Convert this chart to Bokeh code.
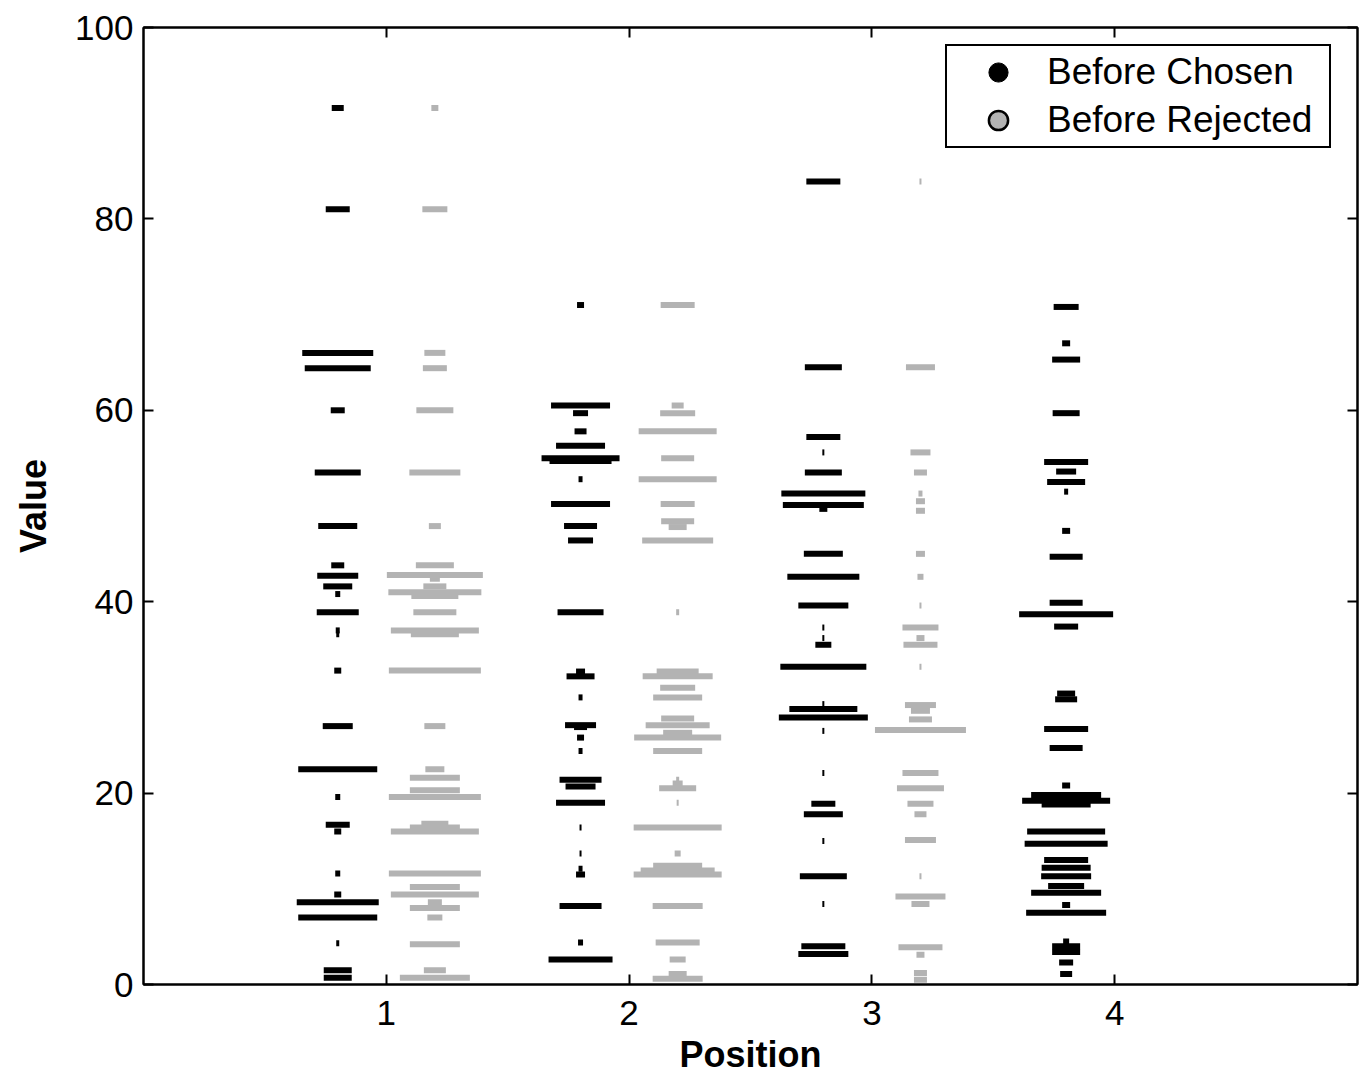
from bokeh.plotting import figure
from bokeh.models import (ColumnDataSource, Range1d, LinearAxis, FixedTicker,
                          Legend, LegendItem)
from bokeh.embed import file_html
from bokeh.resources import INLINE

# ---------------- data (value, count/spread) ----------------
positions = [1, 2, 3, 4]
x_tick_labels = ["1", "2", "3", "4"]
y_ticks = [0, 20, 40, 60, 80, 100]

# Position 1
c1_val = [91.6, 81.0, 66.0, 64.4, 60.0, 53.5, 47.9, 43.8, 42.7, 41.6, 40.8, 38.9, 37.0, 36.6,
          32.8, 27.0, 22.5, 19.6, 16.7, 16.0, 11.6, 9.4, 8.6, 7.0, 4.3, 1.5, 0.7]
c1_cnt = [12, 24, 71, 66, 14, 46, 39, 13, 41, 29, 5, 42, 4, 3,
          7, 30, 79, 5, 24, 7, 5, 7, 82, 79, 3, 28, 28]
r1_val = [91.6, 81.0, 66.0, 64.4, 60.0, 53.5, 47.9, 43.8, 42.8, 42.4, 41.6, 41.0, 40.6, 38.9,
          37.0, 36.6, 32.8, 27.0, 22.5, 21.6, 20.3, 19.6, 16.8, 16.4, 16.0, 11.6, 10.2, 9.4,
          8.6, 8.0, 7.0, 4.2, 1.5, 0.7]
r1_cnt = [7, 25, 21, 24, 37, 51, 12, 38, 96, 10, 23, 93, 47, 43,
          88, 48, 92, 21, 19, 50, 50, 92, 27, 50, 88, 92, 50, 88,
          14, 50, 15, 50, 22, 70]

# Position 2
c2_val = [71.0, 60.5, 59.7, 57.8, 56.3, 55.0, 54.7, 52.8, 50.2, 47.9, 46.4, 38.9, 32.7, 32.2,
          30.0, 27.1, 26.9, 25.8, 24.4, 21.4, 20.7, 19.0, 16.4, 13.7, 12.1, 11.5, 8.2, 4.4, 2.6]
c2_cnt = [7, 59, 15, 12, 49, 78, 62, 4, 59, 33, 25, 46, 9, 28,
          4, 31, 13, 7, 4, 42, 30, 49, 2, 2, 4, 9, 42, 5, 64]
r2_val = [71.0, 60.5, 59.7, 57.8, 55.0, 52.8, 50.2, 48.4, 47.8, 46.4, 38.9, 32.7, 32.2, 31.0,
          30.0, 27.8, 27.1, 26.3, 25.8, 24.4, 21.4, 21.0, 20.5, 19.0, 16.4, 13.7, 12.4, 11.9,
          11.5, 8.2, 4.4, 2.6, 1.1, 0.6]
r2_cnt = [34, 12, 35, 78, 33, 78, 34, 33, 18, 71, 3, 42, 70, 35,
          49, 33, 64, 29, 87, 49, 3, 10, 37, 2, 88, 6, 49, 74,
          88, 50, 44, 16, 18, 50]

# Position 3
c3_val = [83.9, 64.5, 57.2, 55.6, 53.5, 51.3, 50.1, 49.7, 45.0, 42.6, 39.6, 37.3, 36.2, 35.5,
          33.2, 29.3, 28.8, 27.9, 26.5, 22.1, 18.9, 17.8, 15.0, 11.3, 8.4, 4.0, 3.2]
c3_cnt = [34, 37, 34, 2, 37, 84, 81, 8, 39, 72, 50, 2, 2, 16,
          86, 2, 68, 89, 2, 2, 24, 39, 2, 47, 2, 44, 50]
r3_val = [83.9, 64.5, 55.6, 53.5, 51.3, 50.5, 49.5, 45.0, 42.6, 39.6, 37.3, 36.2, 35.5, 33.2,
          29.2, 28.6, 27.7, 26.6, 22.1, 20.5, 18.9, 17.8, 15.1, 11.3, 9.2, 8.4, 3.9, 3.1, 1.2, 0.5]
r3_cnt = [2, 29, 20, 13, 4, 9, 9, 9, 6, 2, 36, 8, 34, 2,
          31, 19, 23, 91, 36, 47, 26, 12, 31, 2, 50, 18, 44, 8, 13, 13]

# Position 4 (chosen only)
c4_val = [70.8, 67.0, 65.3, 59.7, 54.6, 53.6, 52.5, 51.5, 47.4, 44.7, 39.9, 38.7, 37.4, 30.4,
          29.8, 26.7, 24.7, 20.8, 19.8, 19.2, 18.8, 16.0, 14.7, 13.0, 12.2, 11.3, 10.3, 9.6,
          8.3, 7.5, 4.5, 4.0, 3.4, 2.3, 1.1]
c4_cnt = [25, 8, 28, 27, 44, 20, 38, 4, 8, 33, 33, 94, 24, 18,
          22, 44, 33, 8, 70, 88, 49, 78, 83, 44, 49, 50, 36, 70,
          8, 80, 6, 28, 28, 14, 12]

chosen = [(1, c1_val, c1_cnt), (2, c2_val, c2_cnt), (3, c3_val, c3_cnt), (4, c4_val, c4_cnt)]
rejected = [(1, r1_val, r1_cnt), (2, r2_val, r2_cnt), (3, r3_val, r3_cnt)]

BLACK = "#000000"
GRAY = "#b3b3b3"
FONT = "Liberation Sans"
OFFSET = 0.2
NAN = float("nan")

p = figure(width=1361, height=1084, output_backend="svg", toolbar_location=None,
           x_range=Range1d(0, 5), y_range=Range1d(0, 100),
           min_border_left=143, min_border_right=4, min_border_top=27, min_border_bottom=100)
p.xgrid.visible = False
p.ygrid.visible = False
p.outline_line_color = BLACK
p.outline_line_width = 2
p.outline_line_alpha = 1
p.background_fill_color = "white"
p.border_fill_color = "white"


def add_bars(groups, dx, color):
    xs, ys, ws = [], [], []
    for pos, vals, cnts in groups:
        for v, c in zip(vals, cnts):
            xs.append(pos + dx)
            ys.append(v)
            ws.append(c)
    src = ColumnDataSource(dict(x=xs, y=ys, w=ws))
    p.rect(x="x", y="y", width="w", height=6, width_units="screen", height_units="screen",
           source=src, fill_color=color, line_color=None)


add_bars(chosen, -OFFSET, BLACK)
add_bars(rejected, OFFSET, GRAY)

# axes styling
for ax in (p.xaxis[0], p.yaxis[0]):
    ax.axis_line_width = 2
    ax.axis_line_color = BLACK
    ax.major_tick_in = 10
    ax.major_tick_out = 0
    ax.major_tick_line_width = 2
    ax.minor_tick_line_color = None
    ax.major_label_text_font = FONT
    ax.major_label_text_font_size = "35px"
    ax.major_label_text_color = BLACK
    ax.axis_label_text_font = FONT
    ax.axis_label_text_font_size = "36px"
    ax.axis_label_text_font_style = "bold"
    ax.axis_label_text_color = BLACK

p.xaxis[0].ticker = FixedTicker(ticks=positions)
p.xaxis[0].major_label_overrides = {pos: lab for pos, lab in zip(positions, x_tick_labels)}
p.xaxis[0].major_label_standoff = 16
p.xaxis[0].axis_label = "Position"
p.xaxis[0].axis_label_standoff = 6
p.yaxis[0].ticker = FixedTicker(ticks=y_ticks)
p.yaxis[0].major_label_standoff = 10
p.yaxis[0].axis_label = "Value"
p.yaxis[0].axis_label_standoff = 18

top_ax = LinearAxis(ticker=FixedTicker(ticks=positions))
top_ax.major_label_overrides = {t: "" for t in positions}
right_ax = LinearAxis(ticker=FixedTicker(ticks=y_ticks))
right_ax.major_label_overrides = {t: "" for t in y_ticks}
for ax in (top_ax, right_ax):
    ax.axis_line_width = 2
    ax.major_tick_in = 10
    ax.major_tick_out = 0
    ax.major_tick_line_width = 2
    ax.minor_tick_line_color = None
    ax.major_label_text_font_size = "1px"
    ax.major_label_standoff = 0
p.add_layout(top_ax, "above")
p.add_layout(right_ax, "right")

# legend proxies (no visible data points)
r_c = p.scatter(x=[NAN], y=[NAN], marker="circle", size=20, fill_color=BLACK, line_color=BLACK)
r_r = p.scatter(x=[NAN], y=[NAN], marker="circle", size=20, fill_color=GRAY, line_color=BLACK,
                line_width=2.5)
legend = Legend(items=[LegendItem(label="Before Chosen", renderers=[r_c]),
                       LegendItem(label="Before Rejected", renderers=[r_r])],
                location=(802, 836), orientation="vertical")
legend.label_text_font = FONT
legend.label_text_font_size = "37px"
legend.label_text_color = BLACK
legend.border_line_color = BLACK
legend.border_line_width = 2
legend.border_line_alpha = 1
legend.background_fill_color = "white"
legend.background_fill_alpha = 1
legend.padding = 2
legend.spacing = 0
legend.margin = 0
legend.glyph_width = 98
legend.glyph_height = 48
legend.label_height = 48
legend.label_standoff = 0
legend.label_width = 280
p.add_layout(legend, "center")

open("out.html", "w").write(file_html(p, INLINE))
